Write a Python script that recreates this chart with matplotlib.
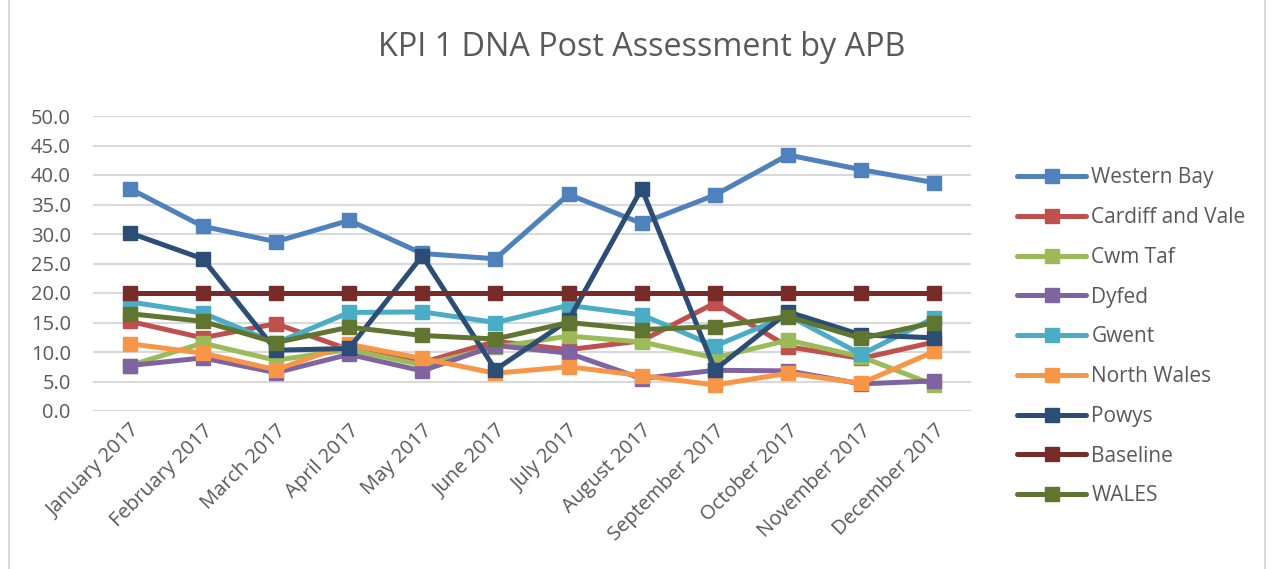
import matplotlib.pyplot as plt
from matplotlib.patches import Rectangle

plt.rcParams['font.family'] = ['Open Sans', 'DejaVu Sans']

months = ['January 2017', 'February 2017', 'March 2017', 'April 2017', 'May 2017',
          'June 2017', 'July 2017', 'August 2017', 'September 2017', 'October 2017',
          'November 2017', 'December 2017']

western_bay = [37.7, 31.3, 28.7, 32.3, 26.7, 25.8, 36.7, 31.8, 36.6, 43.4, 40.9, 38.7]
cardiff_vale = [15.2, 12.4, 14.8, 10.4, 8.2, 11.8, 10.4, 11.9, 18.3, 10.9, 8.9, 11.7]
cwm_taf = [7.7, 11.5, 8.6, 10.4, 7.8, 10.8, 12.7, 11.7, 9.0, 12.0, 9.2, 4.4]
dyfed = [7.7, 9.0, 6.5, 9.6, 6.8, 11.1, 9.8, 5.5, 6.9, 6.8, 4.6, 5.1]
gwent = [18.5, 16.6, 11.5, 16.7, 16.8, 15.0, 17.9, 16.3, 11.0, 16.2, 9.6, 15.8]
north_wales = [11.4, 9.8, 7.0, 11.3, 8.9, 6.4, 7.5, 6.0, 4.4, 6.4, 4.7, 10.1]
powys = [30.2, 25.8, 10.3, 10.6, 26.3, 7.0, 15.4, 37.7, 7.0, 16.8, 12.9, 12.4]
baseline = [20, 20, 20, 20, 20, 20, 20, 20, 20, 20, 20, 20]
wales = [16.5, 15.2, 11.6, 14.2, 12.8, 12.2, 15.0, 13.8, 14.3, 16.0, 12.3, 15.0]

series = [
    ('Western Bay', western_bay, '#4F81BD'),
    ('Cardiff and Vale', cardiff_vale, '#C0504D'),
    ('Cwm Taf', cwm_taf, '#9BBB59'),
    ('Dyfed', dyfed, '#8064A2'),
    ('Gwent', gwent, '#4BACC6'),
    ('North Wales', north_wales, '#F79646'),
    ('Powys', powys, '#2C4D75'),
    ('Baseline', baseline, '#772C2A'),
    ('WALES', wales, '#5F7530'),
]

fig = plt.figure(figsize=(12.73, 5.69), dpi=100)
ax = fig.add_axes([93 / 1273, 1 - 411 / 569, 878 / 1273, 295 / 569])

x = list(range(len(months)))
for name, vals, col in series:
    ax.plot(x, vals, color=col, lw=3.6, marker='s', ms=10.5, label=name,
            solid_capstyle='round', solid_joinstyle='round')

ax.set_xlim(-0.5, len(months) - 0.5)
ax.set_ylim(0, 50)
ax.set_yticks(range(0, 51, 5))
ax.set_yticklabels(['%.1f' % v for v in range(0, 51, 5)])
ax.set_xticks(x)
ax.set_xticklabels(months, rotation=45, ha='right', rotation_mode='anchor')
ax.tick_params(axis='both', length=0, labelsize=14.5, colors='#595959')
ax.tick_params(axis='y', pad=16)
ax.tick_params(axis='x', pad=7)
ax.grid(axis='y', color='#D9D9D9', lw=1.5)
ax.set_axisbelow(True)
for s in ax.spines.values():
    s.set_visible(False)

fig.text(0.504, 1 - 47 / 569, 'KPI 1 DNA Post Assessment by APB', ha='center', va='center',
         fontsize=23.3, color='#595959')

fig.legend(loc='upper left', bbox_to_anchor=(1007 / 1273, 1 - 157 / 569), frameon=False,
           fontsize=15, labelcolor='#595959', handlelength=3.3, labelspacing=0.9,
           borderpad=0, handletextpad=0.25)

fig.patches.append(Rectangle((9 / 1273, -0.1), 1256 / 1273, 1.2, transform=fig.transFigure,
                             fill=False, edgecolor='#D9D9D9', lw=1.5))

fig.savefig('out.png', dpi=100)
